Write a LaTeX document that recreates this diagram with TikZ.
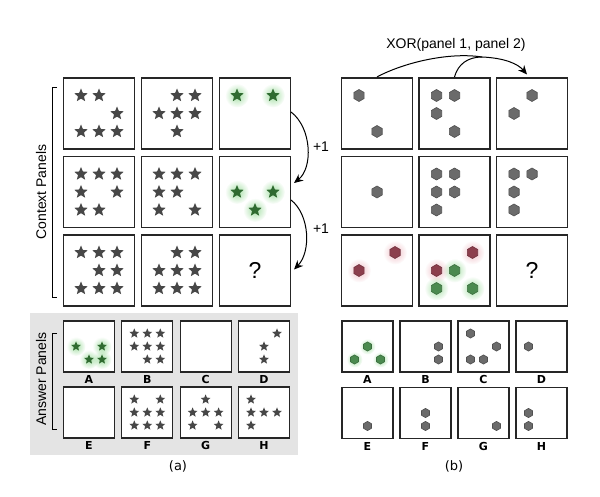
\documentclass[tikz,border=0pt]{standalone}
\usepackage{fontspec}
\setmainfont{Liberation Sans}
\newfontfamily\labfont{DejaVu Sans}
\usetikzlibrary{arrows.meta,fadings,calc}
\definecolor{starcol}{HTML}{474747}
\definecolor{gstarcol}{HTML}{2F6B30}
\definecolor{gglowcol}{HTML}{7FD27F}
\definecolor{rglowcol}{HTML}{EAA3AE}
\definecolor{hexcol}{HTML}{6B6B6B}
\definecolor{hexline}{HTML}{505050}
\definecolor{rhexcol}{HTML}{8C3F4D}
\definecolor{ghexcol}{HTML}{4B8A4F}
\definecolor{graybg}{HTML}{E4E4E4}
\tikzfading[name=glowfade, inner color=transparent!30, outer color=transparent!100]
% stars: [style]{cx}{cy}{spacing}{radius}{list c/r}
\newcommand\pstar[6][fill=starcol]{%
  \foreach \c/\r in {#6} {%
    \path[#1, shift={({#2+#4*(\c-1)},{#3+#4*(\r-1)})}] (270:#5) -- (306:{0.45*#5}) -- (342:#5) -- (18:{0.45*#5}) -- (54:#5) -- (90:{0.45*#5}) -- (126:#5) -- (162:{0.45*#5}) -- (198:#5) -- (234:{0.45*#5}) -- cycle;
  }}
\newcommand\phex[6][fill=hexcol,draw=hexline]{%
  \foreach \c/\r in {#6} {%
    \path[#1, line width=0.6pt, shift={({#2+#4*(\c-1)},{#3+#4*(\r-1)})}] (270:#5) -- (330:#5) -- (30:#5) -- (90:#5) -- (150:#5) -- (210:#5) -- cycle;
  }}
\newcommand\pglow[6][gglowcol]{%
  \foreach \c/\r in {#6} {%
    \fill[#1, path fading=glowfade] ({#2+#4*(\c-1)},{#3+#4*(\r-1)}) circle (#5);
  }}
\tikzset{
  panel/.style={draw=black!85, fill=white, line width=1.1pt, minimum size=71pt, inner sep=0pt},
  apanel/.style={draw=black!85, fill=white, line width=1.1pt, minimum size=51pt, inner sep=0pt},
  lab/.style={font=\labfont\bfseries\fontsize{11}{12}\selectfont, inner sep=0pt},
  side/.style={font=\fontsize{14}{16}\selectfont, rotate=90, inner sep=0pt},
  qmark/.style={font=\fontsize{23}{26}\selectfont},
  plusone/.style={font=\fontsize{14}{16}\selectfont},
  caption/.style={font=\labfont\fontsize{13}{15}\selectfont},
  conn/.style={line width=1pt, draw=black},
  bracket/.style={line width=1pt, draw=black},
}
\begin{document}
\begin{tikzpicture}[x=1pt,y=-1pt]
\useasboundingbox (0,0) rectangle (600,497);
\fill[white] (0,0) rectangle (600,497);
% gray background of answer panels (a)
\fill[graybg] (30,313) rectangle (298,455);

% ---------- (a) context panels ----------
\foreach \n/\x/\y in {a11/99/113.5,a12/177/113.5,a13/255/113.5,
                      a21/99/192,a22/177/192,a23/255/192,
                      a31/99/270.5,a32/177/270.5,a33/255/270.5}
  \node[panel] (\n) at (\x,\y) {};
\pstar{99}{113.5}{18}{7}{0/0,1/0,2/1,0/2,1/2,2/2}
\pstar{177}{113.5}{18}{7}{1/0,2/0,0/1,1/1,2/1,1/2}
\pglow{255}{113.5}{18}{12}{0/0,2/0}
\pstar[fill=gstarcol]{255}{113.5}{18}{7}{0/0,2/0}
\pstar{99}{192}{18}{7}{0/0,1/0,2/0,0/1,2/1,0/2,1/2}
\pstar{177}{192}{18}{7}{0/0,1/0,2/0,0/1,1/1,0/2,2/2}
\pglow{255}{192}{18}{12}{0/1,2/1,1/2}
\pstar[fill=gstarcol]{255}{192}{18}{7}{0/1,2/1,1/2}
\pstar{99}{270.5}{18}{7}{0/0,1/0,2/0,1/1,2/1,0/2,1/2,2/2}
\pstar{177}{270.5}{18}{7}{1/0,2/0,0/1,1/1,2/1,0/2,1/2,2/2}
\node[qmark] (qa) at (a33) {?};

% brackets and side labels (a)
\draw[bracket] (57,88) -- (52,88) -- (52,297) -- (57,297);
\node[side] (ctx) at (41,192) {Context Panels};
\draw[bracket] (57,333) -- (52,333) -- (52,429) -- (57,429);
\node[side] (ans) at (41,379) {Answer Panels};

% +1 arrows
\draw[conn, -{Stealth[length=9pt,width=8pt]}] ($(a13.east)+(0,-1.5)$) .. controls (312,128) and (313,168) .. ($(a23.east)+(3,-9)$);
\draw[conn, -{Stealth[length=9pt,width=8pt]}] ($(a23.east)+(0,8)$) .. controls (310,215) and (311,252) .. ($(a33.east)+(3,-1)$);
\node[plusone] (p1) at (321,147) {+1};
\node[plusone] (p2) at (321,229) {+1};

% ---------- (a) answer panels ----------
\foreach \n/\x/\y/\l in {aA/89/346.5/A,aB/147.3/346.5/B,aC/205.6/346.5/C,aD/264/346.5/D,
                         aE/89/412.5/E,aF/147.3/412.5/F,aG/205.6/412.5/G,aH/264/412.5/H}
  {\node[apanel] (\n) at (\x,\y) {};
   \node[lab] (\n l) at (\x,{\y+33}) {\l};}
\pglow{89}{346.5}{13}{9.5}{0/1,2/1,1/2,2/2}
\pstar[fill=gstarcol]{89}{346.5}{13}{5.1}{0/1,2/1,1/2,2/2}
\pstar{147.3}{346.5}{13}{5.1}{0/0,1/0,2/0,0/1,1/1,2/1,1/2,2/2}
\pstar{264}{346.5}{13}{5.1}{2/0,1/1,1/2}
\pstar{147.3}{412.5}{13}{5.1}{0/0,2/0,0/1,1/1,2/1,0/2,1/2,2/2}
\pstar{205.6}{412.5}{13}{5.1}{1/0,0/1,1/1,2/1,0/2,2/2}
\pstar{264}{412.5}{13}{5.1}{0/0,0/1,1/1,2/1,0/2}
\node[caption] (capa) at (178,466) {(a)};

% ---------- (b) context panels ----------
\foreach \n/\x/\y in {b11/377/113.5,b12/454.5/113.5,b13/532/113.5,
                      b21/377/192,b22/454.5/192,b23/532/192,
                      b31/377/270.5,b32/454.5/270.5,b33/532/270.5}
  \node[panel] (\n) at (\x,\y) {};
\phex{377}{113.5}{18}{6}{0/0,1/2}
\phex{454.5}{113.5}{18}{6}{0/0,1/0,0/1,1/2}
\phex{532}{113.5}{18}{6}{1/0,0/1}
\phex{377}{192}{18}{6}{1/1}
\phex{454.5}{192}{18}{6}{0/0,1/0,0/1,1/1,0/2}
\phex{532}{192}{18}{6}{0/0,1/0,0/1,0/2}
\pglow[rglowcol]{377}{270.5}{18}{12}{2/0,0/1}
\phex[fill=rhexcol,draw=rhexcol!80!black]{377}{270.5}{18}{6}{2/0,0/1}
\pglow[rglowcol]{454.5}{270.5}{18}{12}{2/0,0/1}
\pglow{454.5}{270.5}{18}{12}{1/1,0/2,2/2}
\phex[fill=rhexcol,draw=rhexcol!80!black]{454.5}{270.5}{18}{6}{2/0,0/1}
\phex[fill=ghexcol,draw=ghexcol!80!black]{454.5}{270.5}{18}{6}{1/1,0/2,2/2}
\node[qmark] (qb) at (b33) {?};

% XOR arrows
\node[font=\fontsize{14}{16}\selectfont] (xor) at (456,45) {XOR(panel 1, panel 2)};
\coordinate (m) at (482,57);
\draw[conn] ($(b11.north)+(0,-0.5)$) .. controls (405,62) and (450,52) .. (m);
\draw[conn] ($(b12.north)+(0,-0.5)$) .. controls (458,64) and (468,57) .. (m);
\draw[conn, -{Stealth[length=9pt,width=8pt]}] (m) .. controls (505,58) and (518,64) .. ($(b13.north)+(-5,-3)$);

% ---------- (b) answer panels ----------
\foreach \n/\x/\y/\l in {bA/367.5/346.5/A,bB/425.5/346.5/B,bC/483.5/346.5/C,bD/541.5/346.5/D,
                         bE/367.5/413/E,bF/425.5/413/F,bG/483.5/413/G,bH/541.5/413/H}
  {\node[apanel] (\n) at (\x,\y) {};
   \node[lab] (\n l) at (\x,{\y+33}) {\l};}
\pglow{367.5}{346.5}{13}{8}{1/1,0/2,2/2}
\phex[fill=ghexcol,draw=ghexcol!80!black]{367.5}{346.5}{13}{4.6}{1/1,0/2,2/2}
\phex{425.5}{346.5}{13}{4.6}{2/1,2/2}
\phex{483.5}{346.5}{13}{4.6}{0/0,2/1,0/2,1/2}
\phex{541.5}{346.5}{13}{4.6}{0/1}
\phex{367.5}{413}{13}{4.6}{1/2}
\phex{425.5}{413}{13}{4.6}{1/1,1/2}
\phex{483.5}{413}{13}{4.6}{2/2}
\phex{541.5}{413}{13}{4.6}{0/1,0/2}
\node[caption] (capb) at (454,466) {(b)};
\end{tikzpicture}
\end{document}
